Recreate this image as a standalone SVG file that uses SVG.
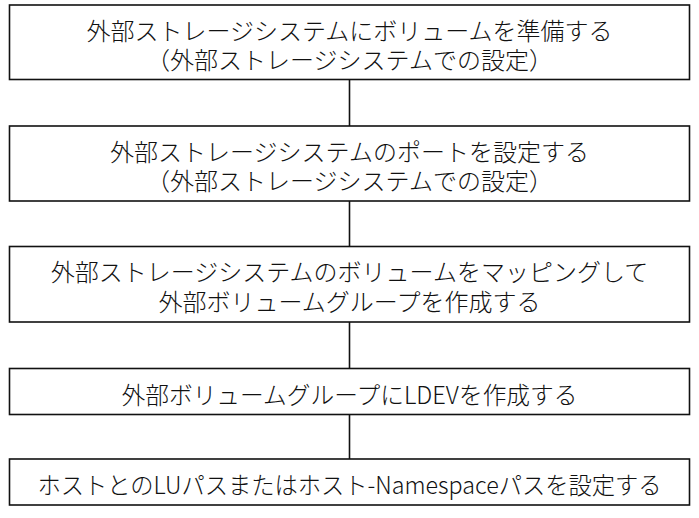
<svg xmlns="http://www.w3.org/2000/svg" width="699" height="518" viewBox="0 0 699 518">
<style>
.box{fill:#fff;stroke:#111;stroke-width:1.6}
.conn{stroke:#111;stroke-width:1.6;fill:none}
text{font-family:"Noto Sans CJK JP","Noto Sans CJK SC",sans-serif;font-size:24px;font-weight:300;fill:#111;text-anchor:middle}
</style>
<rect x="0" y="0" width="699" height="518" fill="#fff"/>
<g id="connectors">
<line class="conn" x1="349.5" y1="79.5" x2="349.5" y2="126"/>
<line class="conn" x1="349.5" y1="201" x2="349.5" y2="246.5"/>
<line class="conn" x1="349.5" y1="322" x2="349.5" y2="368.5"/>
<line class="conn" x1="349.5" y1="414.5" x2="349.5" y2="459"/>
</g>
<g id="step1">
<rect class="box" x="9.5" y="5" width="680" height="74.5"/>
<text x="349.5" y="39.5">外部ストレージシステムにボリュームを準備する</text>
<text x="349.5" y="69">（外部ストレージシステムでの設定）</text>
</g>
<g id="step2">
<rect class="box" x="9.5" y="126" width="680" height="75"/>
<text x="349.5" y="160.5">外部ストレージシステムのポートを設定する</text>
<text x="349.5" y="189.5">（外部ストレージシステムでの設定）</text>
</g>
<g id="step3">
<rect class="box" x="9.5" y="246.5" width="680" height="75.5"/>
<text x="349.5" y="281">外部ストレージシステムのボリュームをマッピングして</text>
<text x="349.5" y="310.5">外部ボリュームグループを作成する</text>
</g>
<g id="step4">
<rect class="box" x="9.5" y="368.5" width="680" height="46"/>
<text x="349.5" y="403.5" textLength="456" lengthAdjust="spacingAndGlyphs">外部ボリュームグループにLDEVを作成する</text>
</g>
<g id="step5">
<rect class="box" x="9.5" y="459" width="680" height="46"/>
<text x="349.5" y="494" textLength="624" lengthAdjust="spacingAndGlyphs">ホストとのLUパスまたはホスト-Namespaceパスを設定する</text>
</g>
</svg>
